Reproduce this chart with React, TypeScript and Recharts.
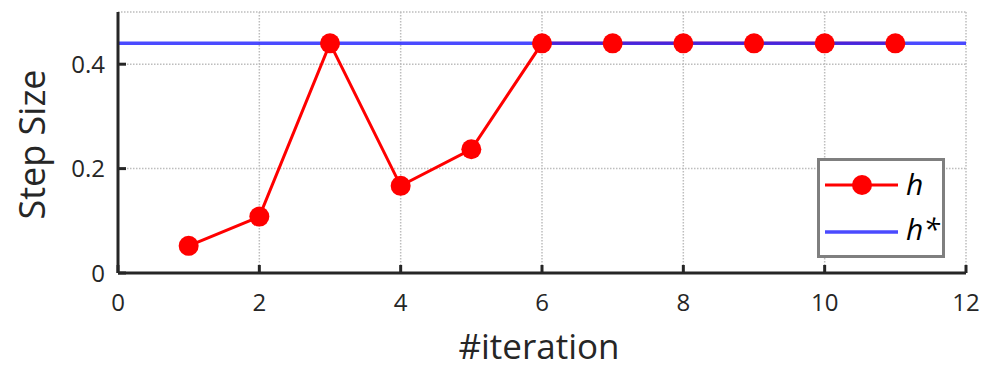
import React from 'react';
import { LineChart, Line, XAxis, YAxis, CartesianGrid, Legend } from 'recharts';

const iterations = [1, 2, 3, 4, 5, 6, 7, 8, 9, 10, 11];
const stepSizes = [0.052, 0.108, 0.44, 0.167, 0.237, 0.44, 0.44, 0.44, 0.44, 0.44, 0.44];
const optimalStep = 0.44;
const xTicks = [0, 2, 4, 6, 8, 10, 12];
const yTicks = [0, 0.2, 0.4];

const hData = iterations.map((it, i) => ({ it, h: stepSizes[i] }));
const hStarData = [xTicks[0], xTicks[xTicks.length - 1]].map((it) => ({ it, hs: optimalStep }));

const FONT = '"Open Sans", sans-serif';
const INK = '#262626';
const RED = '#ff0000';
const BLUE = '#2a2aff';

const XTick = ({ x, y, payload }: any) => (
  <g>
    <line x1={x} x2={x} y1={y} y2={y - 8} stroke={INK} strokeWidth={3} />
    <text x={x} y={y + 38} textAnchor="middle" fontSize={24} fontFamily={FONT} fill={INK}>
      {payload.value}
    </text>
  </g>
);

const YTick = ({ x, y, payload }: any) => (
  <g>
    <line x1={x} x2={x + 8} y1={y} y2={y} stroke={INK} strokeWidth={3} />
    <text x={x - 13} y={y + 8.5} textAnchor="end" fontSize={24} fontFamily={FONT} fill={INK}>
      {payload.value}
    </text>
  </g>
);

const LegendBox = () => (
  <div
    style={{
      width: 122,
      height: 94,
      border: '3px solid #7f7f7f',
      background: '#fff',
      fontFamily: FONT,
    }}
  >
    <svg width={122} height={94}>
      <line x1={5} x2={78} y1={24} y2={24} stroke={RED} strokeWidth={3} />
      <circle cx={42} cy={24} r={10} fill={RED} />
      <text x={86} y={34} fontSize={30} fontStyle="italic" fill="#000" fontFamily={FONT}>h</text>
      <line x1={5} x2={78} y1={71} y2={71} stroke={BLUE} strokeOpacity={0.85} strokeWidth={3.5} />
      <text x={86} y={79} fontSize={30} fontStyle="italic" fill="#000" fontFamily={FONT}>h*</text>
    </svg>
  </div>
);

export default function App() {
  return (
    <div style={{ position: 'absolute', left: 0, top: 0, width: 988, height: 369, background: '#fff' }}>
      <LineChart width={988} height={369} margin={{ top: 12, right: 22, left: 58, bottom: 36 }}>
        <CartesianGrid stroke="#bdbdbd" strokeWidth={1.5} strokeDasharray="1.5 1.5" horizontal vertical />
        <XAxis
          dataKey="it"
          type="number"
          domain={[0, 12]}
          ticks={xTicks}
          allowDuplicatedCategory={false}
          height={60}
          tickSize={0}
          tickMargin={0}
          tickLine={false}
          axisLine={{ stroke: INK, strokeWidth: 3 }}
          tick={<XTick />}
          label={{
            content: ({ viewBox }: any) => (
              <text
                x={viewBox.x + viewBox.width / 2 - 3}
                y={viewBox.y + 86}
                textAnchor="middle"
                fontSize={35}
                fontFamily={FONT}
                fill={INK}
              >
                #iteration
              </text>
            ),
          }}
        />
        <YAxis
          type="number"
          domain={[0, 0.5]}
          ticks={yTicks}
          width={60}
          tickSize={0}
          tickMargin={0}
          tickLine={false}
          axisLine={{ stroke: INK, strokeWidth: 3 }}
          tick={<YTick />}
          label={{
            content: ({ viewBox }: any) => {
              const cx = 45;
              const cy = viewBox.y + viewBox.height / 2 + 2;
              return (
                <text
                  x={cx}
                  y={cy}
                  transform={`rotate(-90 ${cx} ${cy})`}
                  textAnchor="middle"
                  fontSize={36}
                  fontFamily={FONT}
                  fill={INK}
                >
                  Step Size
                </text>
              );
            },
          }}
        />
        <Line
          data={hData}
          dataKey="h"
          stroke={RED}
          strokeWidth={3}
          dot={{ r: 10, fill: RED, stroke: 'none' }}
          activeDot={false}
          isAnimationActive={false}
        />
        <Line
          data={hStarData}
          dataKey="hs"
          stroke={BLUE}
          strokeOpacity={0.85}
          strokeWidth={3.5}
          dot={false}
          activeDot={false}
          isAnimationActive={false}
        />
        <Legend
          layout="horizontal"
          verticalAlign="middle"
          align="center"
          content={() => <LegendBox />}
          wrapperStyle={{ left: 817, top: 158, width: 128, height: 100 }}
        />
      </LineChart>
    </div>
  );
}
